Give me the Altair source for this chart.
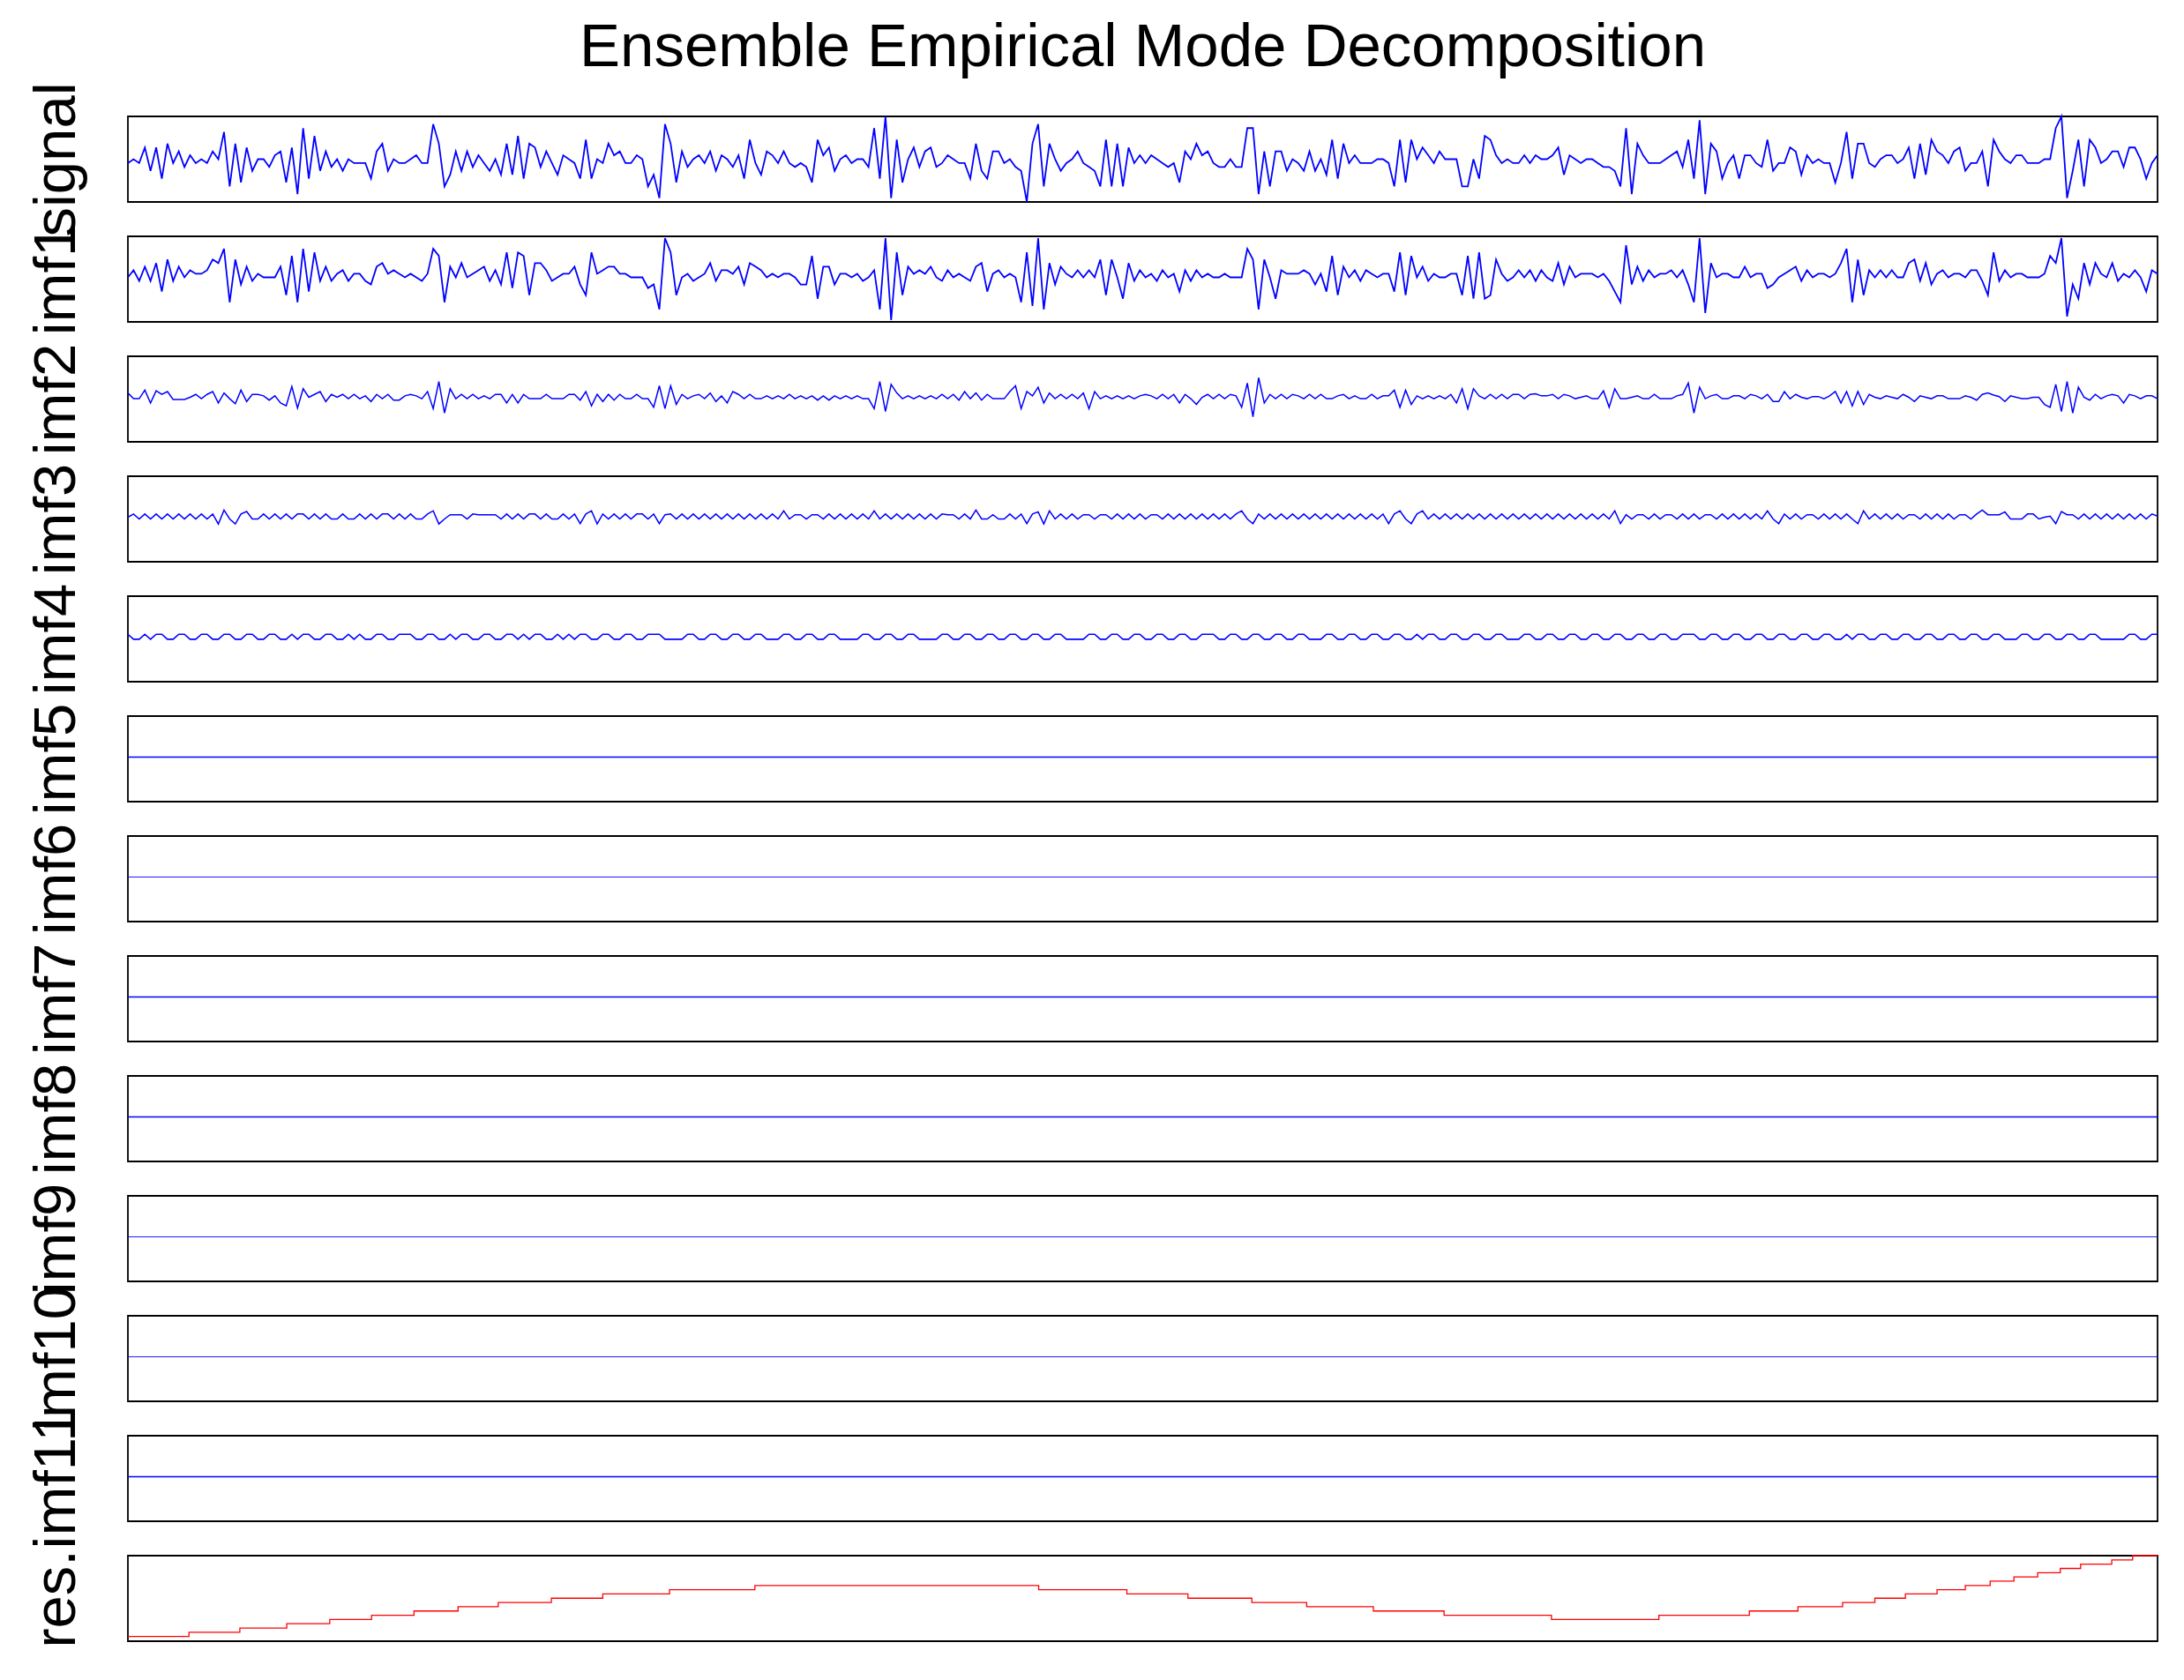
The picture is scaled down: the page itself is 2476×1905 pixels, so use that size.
import altair as alt
import pandas as pd

FONT = "Liberation Sans"
BLUE = "#0000FF"
RED = "#FF0000"

TITLE = "Ensemble Empirical Mode Decomposition"
LABELS = ["signal", "imf1", "imf2", "imf3", "imf4", "imf5", "imf6", "imf7",
          "imf8", "imf9", "imf10", "imf11", "res."]

signal = [
    0, 1, 0, 4, -2, 4, -4, 5, 0, 3, -1, 2, 0, 1, 0, 3, 1, 8, -6, 5,
    -5, 4, -2, 1, 1, -1, 2, 3, -5, 4, -8, 9, -4, 7, -2, 3, -1, 1, -2, 1,
    0, 0, 0, -4, 3, 5, -2, 1, 0, 0, 1, 2, 0, 0, 10, 5, -6, -3, 3, -2,
    3, -1, 2, 0, -2, 1, -3, 5, -3, 7, -4, 5, 4, -1, 3, 0, -3, 2, 1, 0,
    -4, 6, -4, 1, 0, 5, 2, 3, 0, 0, 2, 1, -6, -3, -9, 10, 5, -5, 3, -1,
    1, 2, 0, 3, -2, 2, 1, -1, 2, -4, 6, 0, -3, 3, 2, 0, 3, 0, -1, 0,
    -1, -5, 6, 2, 4, -2, 1, 2, 0, 1, 1, -1, 9, -4, 12, -9, 6, -5, 1, 4,
    -1, 3, 4, -1, 0, 2, 1, 0, 0, -4, 5, -2, -4, 3, 3, 0, 1, -1, -2, -10,
    5, 10, -6, 5, 1, -2, 0, 1, 3, 0, -1, -2, -6, 6, -6, 5, -6, 4, 0, 2,
    0, 2, 1, 0, -1, 0, -5, 3, 1, 5, 2, 3, 0, -1, -1, 1, -1, -1, 9, 9,
    -8, 3, -6, 3, 3, -2, 1, 0, -2, 3, -2, 1, -3, 6, -4, 5, 0, 2, 0, 0,
    0, 1, 1, 0, -6, 6, -5, 6, 1, 4, 2, 0, 3, 1, 1, 1, -6, -6, 1, -4,
    7, 6, 2, 0, 1, 0, 0, 2, 0, 2, 1, 1, 2, 4, -3, 2, 1, 0, 1, 1,
    0, -1, -1, -2, -6, 9, -8, 5, 2, 0, 0, 0, 1, 2, 3, -1, 6, -4, 11, -8,
    5, 3, -4, 0, 2, -4, 2, 2, 0, -1, 6, -2, 0, 0, 4, 3, -3, 2, 0, 1,
    0, 0, -5, 0, 8, -4, 5, 5, 0, -1, 1, 2, 2, 0, 1, 4, -4, 5, -3, 6,
    3, 2, 0, 3, 4, -2, 0, 0, 3, -6, 6, 3, 1, 0, 2, 2, 0, 0, 0, 1,
    1, 9, 12, -9, -2, 6, -6, 6, 4, 0, 1, 3, 3, -1, 4, 4, 1, -4, 0, 2,
]

imf1 = [
    0, 2, -1, 3, -1, 4, -4, 5, -1, 3, 0, 2, 1, 1, 2, 5, 4, 8, -7, 5,
    -2, 3, -1, 1, 0, 0, 0, 3, -5, 6, -7, 8, -4, 7, -1, 3, -1, 1, 2, -1,
    1, 1, -1, -2, 3, 4, 1, 2, 1, 0, 1, 0, -1, 1, 8, 6, -7, 3, 0, 4,
    0, 1, 2, 3, -1, 2, -2, 7, -3, 7, 6, -5, 4, 4, 2, -1, 0, 1, 1, 3,
    -2, -5, 7, 1, 2, 3, 3, 1, 1, 0, 0, 0, -3, -2, -9, 11, 7, -5, 0, 1,
    -1, 0, 1, 4, -1, 2, 2, 1, 3, -2, 4, 3, 2, 0, 1, 0, 1, 1, 0, -2,
    -2, 6, -6, 3, 3, -2, 1, 1, 0, 1, -1, 0, 2, -9, 11, -12, 7, -5, 3, 1,
    2, 1, 3, 0, -1, 2, 0, 1, 0, -1, 3, 4, -4, 1, 2, 0, 1, 0, -7, 7,
    -8, 11, -9, 4, -2, 3, 1, 0, 2, 0, 2, 0, 5, -5, 5, 0, -6, 4, -1, 2,
    0, 1, -1, 2, 0, 1, -4, 2, -1, 2, 0, 1, 0, 0, 1, 0, 0, 0, 8, 5,
    -9, 5, 0, -6, 2, 1, 1, 1, 2, 1, -2, 1, -4, 6, -5, 3, 0, 2, -1, 2,
    1, 0, 1, 1, -4, 7, -5, 6, 0, 3, -1, 1, 0, 0, 1, 1, -5, 6, -6, 7,
    -6, -5, 5, 1, -1, 0, 2, 0, 2, -1, 2, 0, -1, 4, -2, 3, 0, 1, 1, 1,
    0, 1, -1, -4, -7, 9, -2, 3, -1, 2, 0, 1, 1, 2, 0, 2, -2, -7, 11, -10,
    4, 0, 1, 1, 0, 0, 3, 0, 1, 1, -3, -2, 0, 1, 2, 3, -1, 2, 0, 1,
    1, 0, 1, 4, 8, -7, 5, -5, 2, 0, 2, 0, 2, 0, 0, 4, 5, -1, 4, -2,
    1, 2, 0, 1, 1, 0, 2, 2, -1, -5, 7, -1, 2, 0, 1, 1, 0, 0, 0, 1,
    6, 4, 11, -11, -2, -6, 4, -2, 4, 1, 0, 4, -1, 1, 0, 2, 0, -4, 2, 1,
]

imf2 = [
    1.2, -0.4, -0.4, 2, -1.6, 1.8, 0.8, 1.6, -0.6, -0.6, -0.6, 0, 0.8, -0.4, 0.8, 1.6, -1.6, 1.2, -0.4, -1.8,
    2, -1.2, 0.8, 0.8, 0.4, -0.8, 0.4, -1.6, -2.4, 3, -3, 2.4, 0, 0.8, 1.6, -1.2, 0.8, 0, 0.8, -0.4,
    0.8, -0.4, 0.4, -1.2, 0.8, -0.4, 0.8, -0.8, -0.8, 0.4, 0.8, 0.4, -0.4, 1.6, -3.2, 4.4, -4.4, 2.4, -0.4, 0.8,
    -0.4, 0.8, -0.4, 0.4, -0.4, 0.8, 0.8, -1.6, 0.8, -1.6, 0.8, -0.4, -0.4, -0.4, 0.8, -0.4, -0.4, -0.4, 0.8, 0.8,
    -0.8, 1.6, -2.4, 0.8, -1.2, 0.8, -0.8, 0.8, -0.4, -0.4, 0.8, -0.4, -0.4, -2.8, 3.2, -3.2, 3.2, -2, 0.8, -0.4,
    0.4, 0.8, -0.4, 1.2, -1.2, 0.4, -1.6, 1.6, 0.8, -0.4, 0.8, -0.4, -0.4, 0.4, -0.4, 0.4, -0.4, 0.8, -0.4, 0.4,
    -0.4, 0.4, -0.8, 0.4, -0.8, 0.4, -0.4, 0.4, -0.4, 0.4, -0.4, -0.4, -3.2, 4.4, -4, 3.6, 1.2, -0.4, 0.4, -0.4,
    0.4, -0.4, 0.4, -0.4, 0.8, -0.4, 0.8, -0.8, 1.6, -0.4, 1.2, -0.8, 0.8, -0.4, -0.4, -0.4, 1.6, 3.2, -3.2, 1.6,
    0.4, 2.8, -1.6, 1.2, -0.4, 0.8, -0.4, 0.8, -0.4, 1.2, -3.2, 1.6, -0.4, 0.4, -0.4, 0.4, -0.4, 0.4, -0.4, 0.4,
    0.8, 0.4, -0.4, 0.8, -0.4, 0.8, -1.6, 0.8, -0.4, -2, 0, 0.8, -0.4, 0.8, -0.4, 0.8, 0.4, -2.8, 4, -5.5,
    5.5, -1.6, 0.8, -0.4, 0.8, -0.4, 0.8, 0.4, -0.4, 0.8, -0.4, 0.8, -0.4, -0.4, 0.4, 0.8, -0.4, 0.4, -0.4, -0.4,
    0.8, -0.4, 0.4, 0.4, 2, -2.8, 2, -2, 0.4, -0.4, 0.4, -0.4, 0.4, -0.4, 0.8, -1.6, 2.4, -3.2, 2.4, 0.4,
    -0.4, 0.8, -0.4, 0.8, -0.4, 0.8, 0.8, -0.4, 0.8, 1, 0.4, 0.4, 0.8, -0.4, 0.8, 0.4, -0.4, 0, 0.4, -0.4,
    -0.4, 1.8, -2.8, 2.4, -0.4, -0.4, 0, 0.4, -0.4, -0.4, 0.8, -0.4, -0.4, -0.4, 0.4, 0.8, 4, -4.4, 2.8, -0.4,
    0.4, 0.8, -0.4, -0.4, 0.4, 0.4, -0.4, 0.8, 0.4, -0.4, 0.8, -1.2, -1.2, 1.6, -0.4, 0.8, 0, -0.4, 0.2, 0.2,
    -0.4, 0.4, 1.6, -1.6, 1.6, -2.4, 1.6, -2, 0.8, 0, -0.4, 0.4, 0, -0.4, 0.8, 0, -1.2, 0.4, 0, -0.4,
    0.4, 0.4, -0.4, -0.4, -0.4, 0.4, 0, -0.8, 0.8, 1.2, 0.6, 0.2, -1.2, 0.4, 0, -0.4, -0.4, 0, 0, -2,
    -2.8, 3.6, -4, 4.4, -4.4, 2.8, 0, -0.8, 0.8, -0.4, 0.4, 0.8, 0.4, -1.6, 0.8, 0.4, -0.4, 0.4, 0.4, -0.4,
]

imf3 = [
    0, 0.9, -0.5, 0.9, -0.5, 0.9, -0.5, 0.9, -0.5, 0.9, -0.5, 0.9, -0.5, 0.9, -0.5, 0.9, -1.9, 2.0, -0.5, -1.9,
    0.9, 1.6, -0.5, -0.5, 0.9, -0.5, 0.9, -0.5, 0.9, -0.5, 0.9, 0.9, -0.5, 0.9, -0.5, 0.9, -0.5, -0.5, 0.9, -0.5,
    -0.5, 0.9, -0.5, 0.9, -0.5, 0.9, 0.9, -0.5, 0.9, -0.5, 0.9, -0.5, -0.5, 0.9, 1.8, -1.9, -0.5, 0.7, 0.7, 0.7,
    -0.5, 0.9, 0.7, 0.7, 0.7, 0.7, -0.5, 0.9, -0.5, 0.9, -0.5, 0.9, 0.9, -0.5, 0.9, -0.5, -0.5, 0.9, -0.5, 0.9,
    -1.8, 0.9, 1.8, -1.9, 0.9, -0.5, 0.9, -0.5, 0.9, -0.5, 0.9, 0.9, -0.5, 0.9, -1.8, 0.7, 0.9, -0.5, 0.9, -0.5,
    0.9, -0.5, 0.9, -0.5, 0.9, -0.5, 0.9, -0.5, 0.9, -0.5, 0.9, -0.5, 0.9, -0.5, 0.9, -0.5, 1.8, -0.5, 0.7, 0.7,
    -0.5, 0.7, 0.7, -0.5, 0.9, -0.5, 0.9, -0.5, 0.9, -0.5, 0.9, -0.5, 1.8, -0.5, 0.9, -0.5, 0.9, -0.5, 0.9, -0.5,
    0.9, -0.5, 0.9, -0.5, 0.9, 0.7, 0.7, -0.5, 0.9, -0.5, 2.0, -0.5, -0.5, 0.7, -0.5, -0.5, 0.9, -0.5, 0.9, -1.8,
    0.9, 1.5, -1.9, 1.8, -0.5, 0.9, -0.5, 0.9, -0.5, 0.7, 0.7, -0.5, 0.7, 0.7, -0.5, 0.9, -0.5, 0.9, -0.5, 0.9,
    -0.5, 0.7, 0.7, -0.5, 0.9, -0.5, 0.9, -0.5, 0.9, -0.5, 0.9, -0.5, 0.9, -0.5, 0.9, -0.5, 0.9, 1.8, -0.5, -1.8,
    0.9, -0.5, 0.9, -0.5, 0.9, -0.5, 0.9, -0.5, 0.9, -0.5, 0.9, -0.5, 0.9, -0.5, 0.9, -0.5, 0.9, -0.5, 0.9, -0.5,
    0.9, -0.5, 0.9, -1.8, 0.9, 1.8, -0.5, -1.8, 0.9, 1.8, -0.5, 0.9, -0.5, 0.9, -0.5, 0.9, -0.5, 0.9, -0.5, 0.9,
    -0.5, 0.9, -0.5, 0.9, -0.5, 0.9, -0.5, 0.9, -0.5, 0.9, -0.5, 0.9, -0.5, 0.9, -0.5, 0.9, -0.5, 0.9, -0.5, 0.9,
    -0.5, 0.9, -0.5, 1.8, -1.8, 0.7, -0.5, 0.7, 0.7, -0.5, 0.9, -0.5, 0.7, 0.7, -0.5, 0.9, -0.5, 0.9, -0.5, 0.7,
    0.7, -0.5, 0.9, -0.5, 0.9, -0.5, 0.9, -0.5, 0.9, -0.5, 1.8, -0.5, -1.8, 0.9, -0.5, 0.9, -0.5, 0.7, 0.7, -0.5,
    0.9, -0.5, 0.9, -0.5, 0.9, -0.5, -1.8, 1.8, -0.5, 0.9, -0.5, 0.9, -0.5, 0.9, -0.5, 0.7, 0.7, -0.5, 0.9, -0.5,
    0.9, -0.5, 0.9, -0.5, 0.7, 0.7, -0.5, 0.9, 2.0, 0.7, 0.7, 0.7, 1.5, -0.5, -0.5, -0.5, 0.9, 0.9, -0.5, 0.0,
    0.3, -1.8, 1.6, 0.7, 0.7, -0.5, 0.9, -0.5, 0.9, -0.5, 0.9, -0.5, 0.9, -0.5, 0.9, -0.5, 0.9, -0.5, 0.9, 0.3,
]

imf4 = [
    0.8, -0.6, -0.6, 0.8, -0.6, 0.8, 0.8, -0.6, -0.6, 0.8, 0.8, -0.6, -0.6, 0.8, 0.8, -0.6, -0.6, 0.8, 0.8, -0.6,
    -0.6, 0.8, 0.8, -0.6, -0.6, 0.8, 0.8, -0.6, -0.6, 0.8, -0.6, 0.8, 0.8, -0.6, -0.6, 0.8, 0.8, -0.6, -0.6, 0.8,
    -0.6, 0.8, -0.6, -0.6, 0.8, 0.8, -0.6, -0.6, 0.8, 0.8, 0.8, -0.6, -0.6, 0.8, 0.8, -0.6, -0.6, 0.8, -0.6, 0.8,
    0.8, -0.6, -0.6, 0.8, 0.8, -0.6, -0.6, 0.8, 0.8, -0.6, 0.8, -0.6, 0.8, 0.8, -0.6, -0.6, 0.8, -0.6, 0.8, -0.6,
    0.8, 0.8, -0.6, -0.6, 0.8, 0.8, -0.6, -0.6, 0.8, 0.8, -0.6, -0.6, 0.8, 0.8, 0.8, -0.6, -0.6, -0.6, -0.6, 0.8,
    0.8, -0.6, -0.6, 0.8, 0.8, -0.6, -0.6, 0.8, 0.8, -0.6, -0.6, 0.8, 0.8, -0.6, -0.6, -0.6, 0.8, 0.8, -0.6, -0.6,
    0.8, 0.8, -0.6, -0.6, 0.8, 0.8, -0.6, -0.6, -0.6, -0.6, 0.8, 0.8, -0.6, -0.6, 0.8, 0.8, -0.6, -0.6, 0.8, 0.8,
    -0.6, -0.6, -0.6, -0.6, 0.8, 0.8, -0.6, -0.6, 0.8, 0.8, -0.6, -0.6, 0.8, 0.8, -0.6, -0.6, 0.8, 0.8, -0.6, -0.6,
    0.8, 0.8, -0.6, -0.6, 0.8, 0.8, -0.6, -0.6, -0.6, -0.6, 0.8, 0.8, -0.6, -0.6, 0.8, 0.8, -0.6, -0.6, 0.8, 0.8,
    -0.6, -0.6, 0.8, 0.8, -0.6, -0.6, 0.8, 0.8, -0.6, -0.6, 0.8, 0.8, 0.8, -0.6, -0.6, 0.8, 0.8, -0.6, -0.6, 0.8,
    0.8, -0.6, -0.6, 0.8, 0.8, -0.6, -0.6, 0.8, 0.8, -0.6, -0.6, -0.6, 0.8, 0.8, -0.6, -0.6, 0.8, 0.8, -0.6, -0.6,
    0.8, 0.8, -0.6, -0.6, 0.8, 0.8, -0.6, -0.6, 0.8, -0.6, 0.8, 0.8, -0.6, -0.6, 0.8, 0.8, -0.6, -0.6, 0.8, 0.8,
    -0.6, -0.6, 0.8, 0.8, -0.6, -0.6, -0.6, 0.8, 0.8, -0.6, -0.6, 0.8, 0.8, -0.6, -0.6, 0.8, 0.8, -0.6, -0.6, 0.8,
    0.8, -0.6, -0.6, 0.8, 0.8, -0.6, -0.6, 0.8, 0.8, -0.6, -0.6, 0.8, 0.8, -0.6, -0.6, 0.8, 0.8, 0.8, -0.6, -0.6,
    0.8, 0.8, -0.6, -0.6, 0.8, 0.8, -0.6, -0.6, 0.8, 0.8, -0.6, -0.6, 0.8, 0.8, -0.6, -0.6, 0.8, 0.8, -0.6, -0.6,
    0.8, 0.8, -0.6, -0.6, 0.8, -0.6, 0.8, 0.8, -0.6, -0.6, 0.8, 0.8, -0.6, -0.6, 0.8, 0.8, -0.6, -0.6, 0.8, 0.8,
    -0.6, -0.6, 0.8, 0.8, -0.6, -0.6, 0.8, 0.8, -0.6, -0.6, 0.8, 0.8, -0.6, -0.6, -0.6, 0.8, 0.8, -0.6, -0.6, 0.8,
    0.8, -0.6, -0.6, 0.8, 0.8, -0.6, -0.6, 0.8, 0.8, -0.6, -0.6, -0.6, -0.6, -0.6, 0.8, 0.8, -0.6, -0.6, 0.8, 0.8,
]

imf5 = [0, 0]
imf6 = [0, 0]
imf7 = [0, 0]
imf8 = [0, 0]
imf9 = [0, 0]
imf10 = [0, 0]
imf11 = [0, 0]

# residual: staircase, sample index where each level starts, and the level
res_t = [0, 10.8, 19.8, 28.1, 35.7, 43.1, 50.6, 58.4, 65.5, 74.9, 84.0, 95.8, 110.9,
         161.1, 176.7, 187.5, 198.8, 208.5, 220.3, 232.8, 251.8,
         270.8, 286.8, 295.4, 303.3, 309.0, 314.4, 320.0, 325.0, 329.4, 333.6, 337.8,
         341.8, 345.4, 350.9, 354.6, 359]
res_v = [0, 1, 2, 3, 4, 5, 6, 7, 8, 9, 10, 11, 12,
         11, 10, 9, 8, 7, 6, 5, 4,
         5, 6, 7, 8, 9, 10, 11, 12, 13, 14, 15,
         16, 17, 18, 19, 19]

IMF_DOMAIN = [-12.5, 11.5]
RES_DOMAIN = [-1.1, 19]

PANEL_W = 2301
PANEL_H = 97
LABEL_SIZE = 67


def panel(label, values, color, sw, domain=None, t=None, interp="linear"):
    if t is None:
        t = list(range(len(values)))
    df = pd.DataFrame({"t": t, "v": values})
    if domain is None:
        yscale = alt.Scale(zero=False, nice=False)
    else:
        yscale = alt.Scale(domain=domain, zero=False, nice=False)
    return alt.Chart(df).mark_line(
        color=color, strokeWidth=sw, interpolate=interp
    ).encode(
        x=alt.X("t:Q", axis=None, scale=alt.Scale(zero=False, nice=False)),
        y=alt.Y("v:Q", scale=yscale, axis=alt.Axis(
            title=label, labels=False, ticks=False, domain=False, grid=False,
            titleFont=FONT, titleFontSize=LABEL_SIZE, titleFontWeight="normal",
            titleColor="black", titlePadding=47, titleLimit=2000)),
    ).properties(width=PANEL_W, height=PANEL_H)


series = [signal, imf1, imf2, imf3, imf4, imf5, imf6, imf7, imf8, imf9, imf10, imf11]
widths = [1.8, 1.8, 1.5, 1.5, 1.6, 1.3, 0.9, 1.6, 1.6, 0.9, 0.9, 1.6]

panels = []
for i, (lab, vals) in enumerate(zip(LABELS[:-1], series)):
    dom = None if i == 0 else IMF_DOMAIN
    panels.append(panel(lab, vals, BLUE, widths[i], domain=dom))
panels.append(panel(LABELS[-1], res_v, RED, 1.3, domain=RES_DOMAIN, t=res_t,
                    interp="step-after"))

chart = alt.vconcat(*panels, spacing=39, bounds="flush").properties(
    title=alt.TitleParams(
        text=TITLE, font=FONT, fontSize=69, fontWeight="normal", color="black",
        anchor="middle", frame="group", offset=3),
    padding={"left": 21, "top": 12, "right": 10, "bottom": 10},
    background="white",
).configure_view(stroke="black", strokeWidth=1.8)

chart.save("out.html", embed_options={"renderer": "svg", "actions": False})
